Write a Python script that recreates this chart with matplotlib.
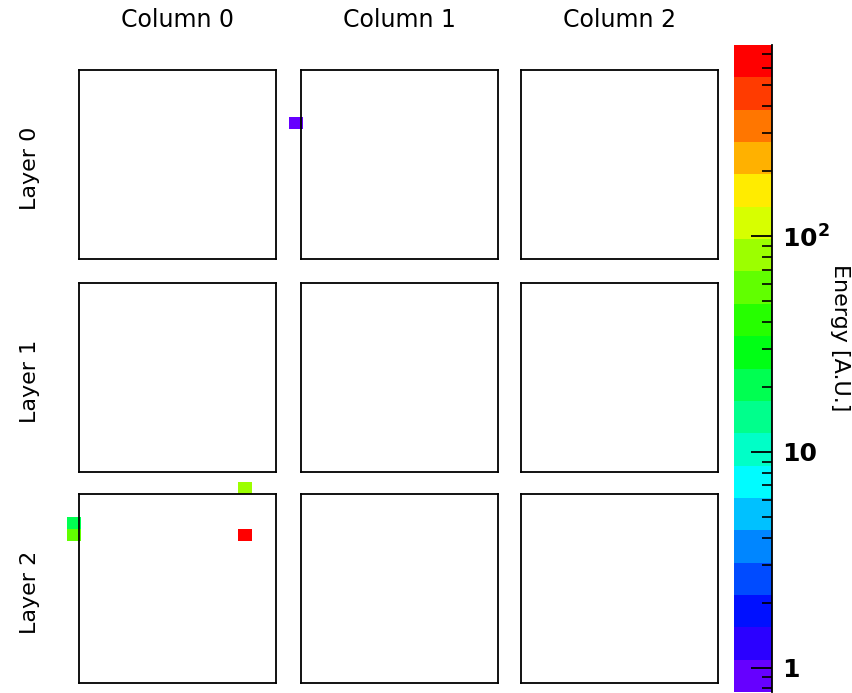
import numpy as np
import matplotlib
matplotlib.use("Agg")
import matplotlib.pyplot as plt
from matplotlib.colors import ListedColormap, LogNorm, hsv_to_rgb
from matplotlib.ticker import LogLocator, NullFormatter

# hits: layer, column, cell x index, cell y index, energy
hit_layer = [0, 2, 2, 2, 2]
hit_column = [1, 0, 0, 0, 0]
hit_ix = [-1, 11, 11, -1, -1]
hit_iy = [4, -1, 3, 2, 3]
hit_energy = [0.9, 80.0, 600.0, 20.0, 58.0]

layer_names = ["Layer 0", "Layer 1", "Layer 2"]
column_names = ["Column 0", "Column 1", "Column 2"]
e_min, e_max = 0.77, 770.0
n_levels = 20

W, H = 853, 693
fig = plt.figure(figsize=(W / 100, H / 100), dpi=100)

# discrete rainbow palette, purple (low) -> red (high)
hues = np.linspace(264.0 / 360.0, 0.0, n_levels)
hsv = np.stack([hues, np.ones(n_levels), np.ones(n_levels)], axis=1)
cmap = ListedColormap(hsv_to_rgb(hsv))
norm = LogNorm(vmin=e_min, vmax=e_max)

col_left = [79, 301, 521.5]
row_top = [70, 283, 494]
pw, ph = 197, 189

# cell grid (indices -1 .. 15 in x, -1 .. 17 in y)
gx = np.arange(-1, 16)
gy = np.arange(-1, 18)

mesh = None
for r in range(3):
    for c in range(3):
        ax = fig.add_axes([col_left[c] / W, 1 - (row_top[r] + ph) / H, pw / W, ph / H])
        grid = np.full((len(gy) - 1, len(gx) - 1), np.nan)
        for l, cc, ix, iy, e in zip(hit_layer, hit_column, hit_ix, hit_iy, hit_energy):
            if l == r and cc == c:
                grid[iy + 1, ix + 1] = e
        mesh = ax.pcolormesh(gx, gy, np.ma.masked_invalid(grid), cmap=cmap, norm=norm)
        mesh.set_clip_on(False)
        ax.set_xlim(-0.16, 13.66)
        ax.set_ylim(16.09, 0)
        ax.set_xticks([])
        ax.set_yticks([])
        for s in ax.spines.values():
            s.set_linewidth(1.3)
            s.set_color("black")
            s.set_zorder(3)
        if r == 0:
            fig.text((col_left[c] + pw / 2) / W, 1 - 20 / H, column_names[c],
                     ha="center", va="center", fontsize=17)
    fig.text(30 / W, 1 - (row_top[r] + ph / 2 + 4) / H, layer_names[r],
             ha="center", va="center", rotation=90, fontsize=16)

cax = fig.add_axes([734 / W, 1 - 692 / H, 38 / W, 647 / H])
cbar = fig.colorbar(mesh, cax=cax)
cbar.outline.set_visible(False)
cax.plot([1, 1], [0, 1], transform=cax.transAxes, color="black", lw=1.3, clip_on=False)
cbar.set_ticks([1, 10, 100], labels=["1", "10", r"$\mathbf{10^{2}}$"])
cax.yaxis.set_minor_locator(LogLocator(base=10, subs=np.arange(2, 10)))
cax.yaxis.set_minor_formatter(NullFormatter())
cax.tick_params(axis="y", which="major", direction="in", length=15, width=1.3,
                pad=7, labelsize=18, right=True, left=False)
cax.tick_params(axis="y", which="minor", direction="in", length=7, width=1.2,
                right=True, left=False)
for t in cax.get_yticklabels():
    t.set_fontweight("bold")

fig.text(840 / W, 1 - 338 / H, "Energy [A.U.]", rotation=270,
         ha="center", va="center", fontsize=16)

fig.savefig("out.png", dpi=100)
